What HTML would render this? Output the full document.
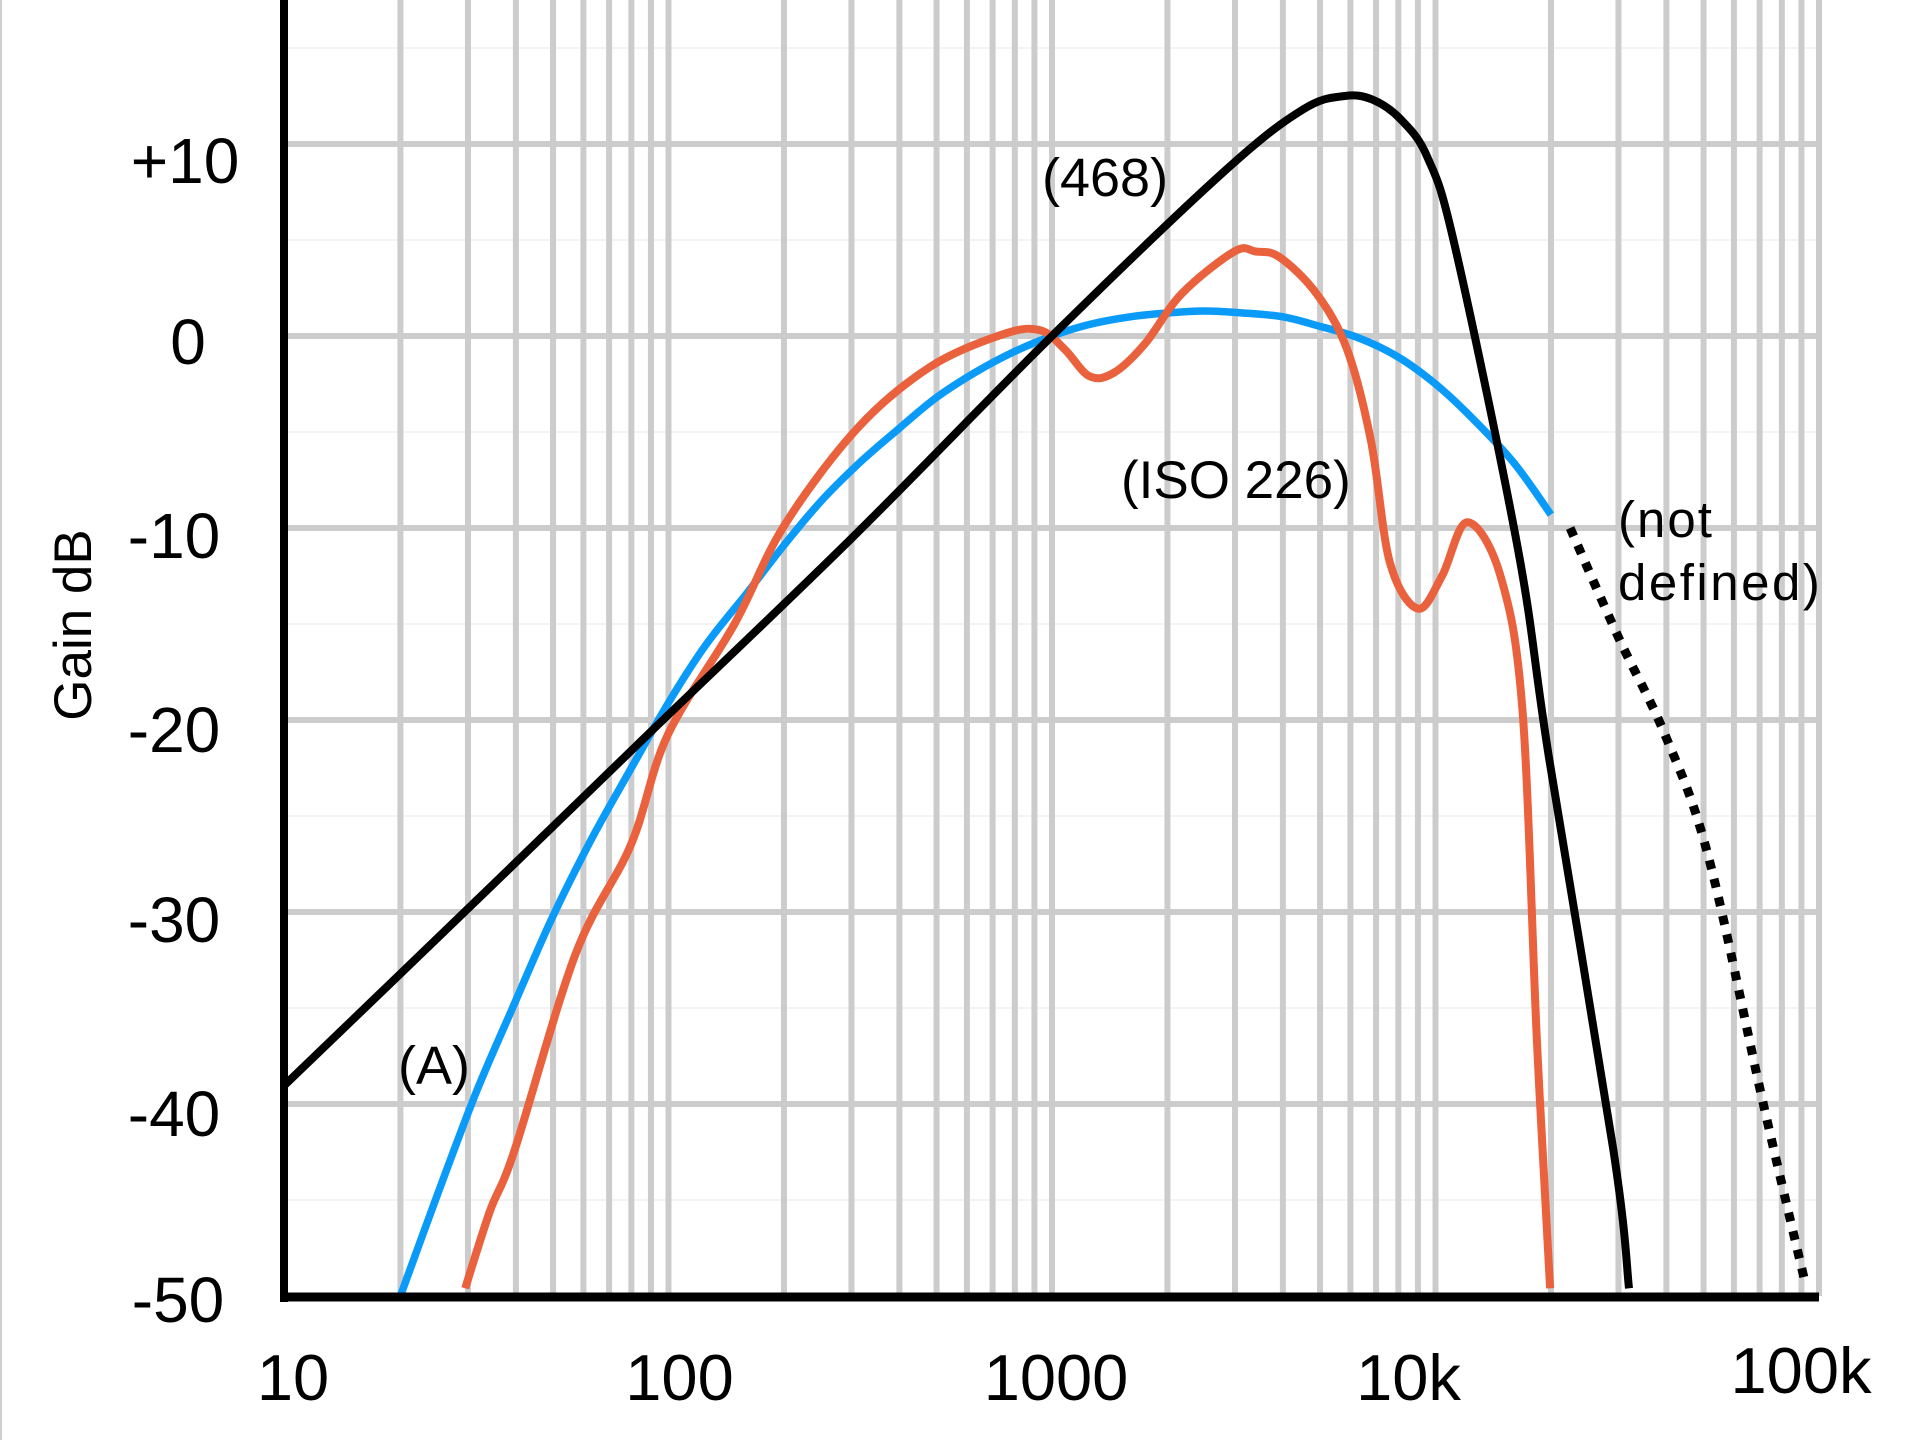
<!DOCTYPE html>
<html><head><meta charset="utf-8">
<style>
html,body{margin:0;padding:0;background:#fff;}
svg{display:block;}
text{font-family:"Liberation Sans",Arial,sans-serif;fill:#000;}
</style></head>
<body>
<svg id="chart" width="1920" height="1440" viewBox="0 0 1920 1440" xmlns="http://www.w3.org/2000/svg">
  <rect x="0" y="0" width="1920" height="1440" fill="#fff"/>
  <line x1="1" y1="0" x2="1" y2="1440" stroke="#cfcfcf" stroke-width="2"/>
  <g id="grid"></g>
  <g id="series"></g>
  <g id="axes"></g>
  <g id="labels"></g>
  <text x="77" y="625" font-size="53" text-anchor="middle" transform="rotate(-90 77 625)" dominant-baseline="middle">Gain dB</text>
  <text x="1042" y="196" font-size="54">(468)</text>
  <text x="1121" y="498" font-size="53">(ISO 226)</text>
  <text x="398" y="1084" font-size="54">(A)</text>
  <text x="1618" y="537" font-size="51" letter-spacing="2">(not</text>
  <text x="1618" y="600" font-size="51" letter-spacing="2.5">defined)</text>
</svg>
<script>
const yTicks = [10, 0, -10, -20, -30, -40, -50];
const yTickLabels = ["+10", "0", "-10", "-20", "-30", "-40", "-50"];
const xTicks = [10, 100, 1000, 10000, 100000];
const xTickLabels = ["10", "100", "1000", "10k", "100k"];

const aFreq = [20, 25, 31.5, 40, 50, 63, 80, 100, 125, 160, 200, 250, 315, 400, 500, 630, 800, 1000, 1250, 1600, 2000, 2500, 3150, 4000, 5000, 6300, 8000, 10000, 12500, 16000, 20000];
const aGain = [-50.0, -44.7, -39.4, -34.6, -30.2, -26.2, -22.5, -19.1, -16.1, -13.4, -10.9, -8.6, -6.6, -4.8, -3.2, -1.9, -0.8, 0, 0.6, 1.0, 1.2, 1.3, 1.2, 1.0, 0.5, -0.1, -1.1, -2.5, -4.3, -6.6, -9.3];

const r468Freq = [10, 36, 90, 298, 1000, 2822, 4517, 5800, 6870, 8100, 9530, 11230, 16440, 19780, 29100, 31950];
const r468Gain = [-39, -28.3, -20.6, -10.6, 0, 8.6, 11.8, 12.5, 12.3, 11.3, 9.3, 4.7, -11.2, -22, -42.4, -49.6];

const isoFreq = [29.5, 34.2, 39.7, 57.2, 79.8, 99.4, 148.6, 200, 311, 482, 748, 932, 1080, 1253, 1454, 1748, 2178, 2988, 3400, 3926, 4896, 5880, 6795, 7605, 8995, 10400, 12110, 14770, 16860, 18380, 19900];
const isoGain = [-49.6, -45.6, -42.4, -32.2, -26.5, -20.8, -15.0, -9.9, -4.8, -1.6, 0.1, 0.3, -0.7, -2.1, -1.9, -0.4, 2.2, 4.4, 4.4, 4.1, 2.2, -0.7, -5.5, -11.8, -14.2, -12.5, -9.7, -12.5, -19.5, -36.7, -49.6];

const ndFreq = [22440, 30000, 39750, 51450, 71400, 92500];
const ndGain = [-10.0, -15.7, -20.8, -27.1, -39.9, -49.5];

const NS = "http://www.w3.org/2000/svg";
const X0 = 285, DEC = 383.5, Y0 = 336, PXDB = 19.2;
function xs(f){ return X0 + (Math.log10(f) - 1) * DEC; }
function ys(db){ return Y0 - db * PXDB; }
function mk(tag, attrs, parent){ const e = document.createElementNS(NS, tag); for (const k in attrs) e.setAttribute(k, attrs[k]); parent.appendChild(e); return e; }

const grid = document.getElementById('grid');
const XR = xs(100000), YB = ys(-50);
for (let d = 15; d > -50; d -= 10) {
  const l = mk('line', {x1: X0, x2: XR, y1: ys(d), y2: ys(d), stroke: '#f3f3f3', 'stroke-width': 2}, grid);
  
  
}
for (let dec = 10; dec < 100000; dec *= 10) {
  for (let k = 1; k <= 10; k++) {
    if (k === 1 && dec === 10) continue;
    const x = xs(k * dec);
    const l = mk('line', {x1: x, x2: x, y1: 0, y2: YB, stroke: '#cccccc', 'stroke-width': 6}, grid);
    
    
  }
}
yTicks.forEach(v => {
  if (v === -50) return;
  const l = mk('line', {x1: X0, x2: XR, y1: ys(v), y2: ys(v), stroke: '#cccccc', 'stroke-width': 6}, grid);
  
  
});

function smoothPath(px){
  let d = 'M' + px[0][0].toFixed(1) + ',' + px[0][1].toFixed(1);
  for (let i = 0; i < px.length - 1; i++) {
    const p0 = px[Math.max(0, i - 1)], p1 = px[i], p2 = px[i + 1], p3 = px[Math.min(px.length - 1, i + 2)];
    const c1 = [p1[0] + (p2[0] - p0[0]) / 6, p1[1] + (p2[1] - p0[1]) / 6];
    const c2 = [p2[0] - (p3[0] - p1[0]) / 6, p2[1] - (p3[1] - p1[1]) / 6];
    d += 'C' + c1[0].toFixed(1) + ',' + c1[1].toFixed(1) + ' ' + c2[0].toFixed(1) + ',' + c2[1].toFixed(1) + ' ' + p2[0].toFixed(1) + ',' + p2[1].toFixed(1);
  }
  return d;
}
const series = document.getElementById('series');
function drawLine(freqs, gains, color, width, name, dash){
  const px = freqs.map((f, i) => [xs(f), ys(gains[i])]);
  const attrs = {d: smoothPath(px), fill: 'none', stroke: color, 'stroke-width': width, 'stroke-linejoin': 'round'};
  if (dash) attrs['stroke-dasharray'] = dash;
  const p = mk('path', attrs, series);
  
  
}
drawLine(aFreq, aGain, '#0a9af7', 7.5, 'a-weighting-curve');
drawLine(isoFreq, isoGain, '#e9613d', 8, 'iso-226-curve');
drawLine(r468Freq, r468Gain, '#000000', 8, 'itu-468-curve');
drawLine(ndFreq, ndGain, '#000000', 9, 'not-defined-curve', '9 10');

const axes = document.getElementById('axes');
const ya = mk('line', {x1: X0 - 1, x2: X0 - 1, y1: 0, y2: YB + 6, stroke: '#000', 'stroke-width': 8}, axes);


const xa = mk('line', {x1: X0 - 5, x2: XR, y1: YB + 1, y2: YB + 1, stroke: '#000', 'stroke-width': 9}, axes);



const labels = document.getElementById('labels');
const yOff = [39, 28, 30, 32, 30, 32, 26];
const yCx = [185, 188, 174, 174, 174, 174, 178];
yTicks.forEach((v, i) => {
  const t = mk('text', {x: yCx[i], y: ys(v) + yOff[i], 'font-size': 64, 'text-anchor': 'middle'}, labels);
  t.textContent = yTickLabels[i];
  
  
});
const xOff = [8, 11, 4, -27, -18];
const xBase = [1400, 1400, 1400, 1400, 1393];
xTicks.forEach((v, i) => {
  const t = mk('text', {x: xs(v) + xOff[i], y: xBase[i], 'font-size': 65, 'text-anchor': 'middle'}, labels);
  t.textContent = xTickLabels[i];
  
  
});
</script>
</body></html>
